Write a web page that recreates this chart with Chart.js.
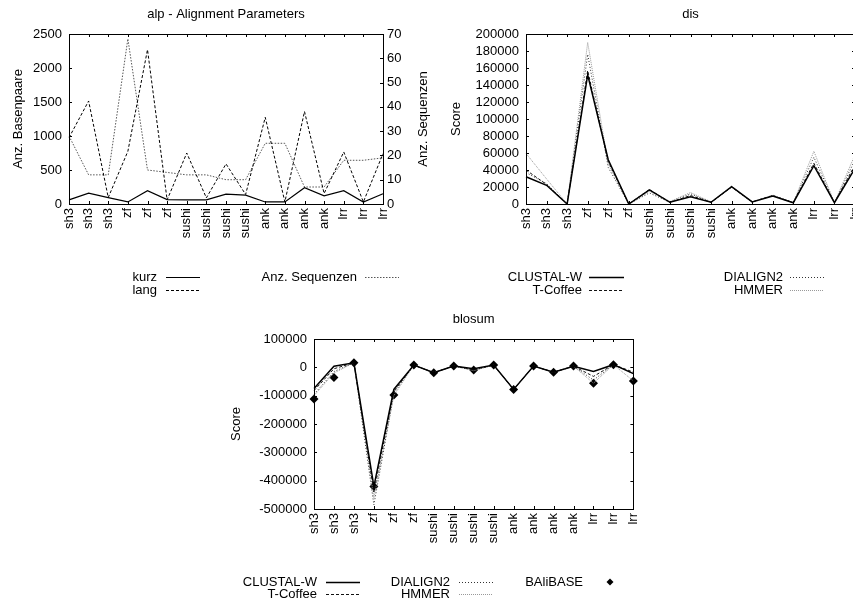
<!DOCTYPE html>
<html>
<head>
<meta charset="utf-8">
<script src="https://cdn.jsdelivr.net/npm/chart.js@4/dist/chart.umd.min.js"></script>
<style>
html, body { margin: 0; padding: 0; background: #fff; overflow: hidden; width: 853px; height: 600px; }
canvas { position: absolute; }
</style>
</head>
<body>
<canvas id="alpChart" width="440" height="300" style="left:0;top:0"></canvas>
<canvas id="disChart" width="435" height="300" style="left:440px;top:0"></canvas>
<canvas id="blosumChart" width="453" height="300" style="left:200px;top:300px"></canvas>
<script>
// categories (same for all three plots)
const categories = ["sh3", "sh3", "sh3", "zf", "zf", "zf", "sushi", "sushi", "sushi", "sushi",
    "ank", "ank", "ank", "ank", "lrr", "lrr", "lrr"];

// alp - Alignment Parameters
const kurz = [60, 160, 95, 30, 195, 65, 60, 60, 145, 130, 30, 30, 240, 120, 195, 30, 150];
const lang = [975, 1515, 95, 775, 2270, 60, 750, 90, 590, 140, 1275, 30, 1360, 155, 765, 30, 740];
const anzSequenzen = [28, 12, 12, 68, 14, 13, 12, 12, 10, 10, 25, 25, 7, 7, 18, 18, 19];

// dis
const disClustal = [32000, 22000, 0, 152000, 52000, 0, 16500, 2000, 8500, 2000, 20500, 2500, 9500, 1500, 45000, 1500, 42000];
const disTCoffee = [40000, 23000, 0, 157000, 50000, 0, 17000, 2000, 10000, 2000, 20000, 2500, 10000, 1500, 48000, 1500, 46000];
const disDialign = [37000, 24000, 0, 176000, 43000, 0, 13000, 2000, 12000, 2000, 20000, 2000, 10000, 1500, 55000, 1500, 52000];
const disHmmer = [59500, 29500, 0, 190000, 47000, 0, 15000, 3000, 13500, 2500, 21000, 2500, 10500, 1500, 62000, 1500, 58000];

// blosum
const bloClustal = [-75000, 4000, 16000, -420000, -78000, 8000, -19000, 4600, -5000, 8000, -78000, 4600, -17000, 4000, -15000, 9400, -22000];
const bloTCoffee = [-82000, -5000, 16000, -440000, -85000, 8000, -19000, 4600, -8000, 8000, -78000, 4600, -17000, 4000, -32000, 9400, -17000];
const bloDialign = [-95000, -15000, 16000, -485000, -92000, 8000, -19000, 4600, -10000, 8000, -78000, 4600, -17000, 4000, -45000, 9400, -22000];
const bloHmmer = [-100000, -20000, 16000, -460000, -100000, 8000, -18000, 4600, -12000, 8000, -78000, 4600, -18000, 4000, -56000, 9400, -48000];
const bloBalibase = [-112000, -36000, 16000, -421000, -98000, 8000, -19000, 4600, -9500, 8000, -78000, 4600, -17700, 4600, -56500, 9400, -48400];

Chart.defaults.font.family = "'Liberation Sans', Arial, sans-serif";
Chart.defaults.font.size = 13;
Chart.defaults.color = "#000";

// gnuplot look: frame with inward tics, key below the plot
const gnuPlot = {
    id: "gnuPlot",
    afterDatasetsDraw(chart, args, opts) {
        const { ctx, chartArea: a, scales } = chart;
        const t = 3;
        ctx.save();
        ctx.strokeStyle = "#000";
        ctx.lineWidth = 1;
        ctx.setLineDash([]);
        ctx.strokeRect(Math.round(a.left) + 0.5, Math.round(a.top) + 0.5,
            Math.round(a.right - a.left), Math.round(a.bottom - a.top));
        ctx.beginPath();
        scales.x.ticks.forEach((tk, i) => {
            const px = Math.round(scales.x.getPixelForTick(i)) + 0.5;
            ctx.moveTo(px, a.bottom); ctx.lineTo(px, a.bottom - t);
            ctx.moveTo(px, a.top); ctx.lineTo(px, a.top + t);
        });
        scales.y.ticks.forEach((tk, i) => {
            const py = Math.round(scales.y.getPixelForTick(i)) + 0.5;
            ctx.moveTo(a.left, py); ctx.lineTo(a.left + t, py);
            if (!scales.y2) { ctx.moveTo(a.right, py); ctx.lineTo(a.right - t, py); }
        });
        if (scales.y2) {
            scales.y2.ticks.forEach((tk, i) => {
                const py = Math.round(scales.y2.getPixelForTick(i)) + 0.5;
                ctx.moveTo(a.right, py); ctx.lineTo(a.right - t, py);
            });
        }
        ctx.stroke();

        // right axis title, reading bottom to top like gnuplot
        if (opts.rightTitle) {
            ctx.save();
            ctx.translate(opts.rightTitle.x, (a.top + a.bottom) / 2);
            ctx.rotate(-Math.PI / 2);
            ctx.fillStyle = "#000";
            ctx.font = "13px 'Liberation Sans', Arial, sans-serif";
            ctx.textAlign = "center";
            ctx.textBaseline = "middle";
            ctx.fillText(opts.rightTitle.text, 0, 0);
            ctx.restore();
        }

        // key
        ctx.font = "13px 'Liberation Sans', Arial, sans-serif";
        ctx.textAlign = "right";
        ctx.textBaseline = "middle";
        (opts.items || []).forEach(it => {
            const ds = chart.data.datasets[it.ds];
            ctx.fillStyle = "#000";
            ctx.fillText(ds.label, it.x, it.y);
            if (ds.showLine === false) {
                const r = 3.5;
                ctx.beginPath();
                ctx.moveTo(it.x1, it.y - r); ctx.lineTo(it.x1 + r, it.y);
                ctx.lineTo(it.x1, it.y + r); ctx.lineTo(it.x1 - r, it.y);
                ctx.closePath();
                ctx.fill();
            } else {
                ctx.strokeStyle = ds.borderColor;
                ctx.lineWidth = ds.borderWidth;
                ctx.setLineDash(ds.borderDash || []);
                ctx.beginPath();
                ctx.moveTo(it.x1, it.y + 0.5);
                ctx.lineTo(it.x2, it.y + 0.5);
                ctx.stroke();
            }
        });
        ctx.restore();
    }
};

function xAxis(height) {
    return {
        type: "category",
        offset: false,
        grid: { display: false, drawTicks: false },
        border: { display: false },
        ticks: { autoSkip: false, minRotation: 90, maxRotation: 90, padding: 4 },
        afterFit: s => { s.height = height; }
    };
}

function yAxis(min, max, step, width, title, titlePad, pos) {
    return {
        type: "linear",
        position: pos || "left",
        min: min, max: max,
        grid: { display: false, drawTicks: false },
        border: { display: false },
        ticks: { stepSize: step, autoSkip: false, padding: pos === "right" ? 4 : 7, callback: v => String(v) },
        title: title ? { display: true, text: title, padding: { top: titlePad, bottom: 0 } } : { display: false },
        afterFit: s => { s.width = width; }
    };
}

function titleOpts(text, top) {
    return {
        display: true, text: text, fullSize: false, color: "#000",
        font: { size: 13, weight: "normal" },
        padding: { top: top, bottom: 12.2 }
    };
}

const base = {
    responsive: false,
    animation: false,
    devicePixelRatio: 1,
    elements: { point: { radius: 0 }, line: { tension: 0 } }
};

// alp - Alignment Parameters
new Chart(document.getElementById("alpChart"), {
    type: "line",
    data: {
        labels: categories,
        datasets: [
            { label: "kurz", data: kurz, borderColor: "#000", borderWidth: 1.2, fill: false, yAxisID: "y" },
            { label: "lang", data: lang, borderColor: "#000", borderWidth: 1, borderDash: [3, 2], fill: false, yAxisID: "y" },
            { label: "Anz. Sequenzen", data: anzSequenzen, borderColor: "#555", borderWidth: 1, borderDash: [1.5, 1.5], fill: false, yAxisID: "y2" }
        ]
    },
    options: Object.assign({}, base, {
        layout: { padding: 0 },
        scales: {
            x: xAxis(96),
            y: yAxis(0, 2500, 500, 69, "Anz. Basenpaare", 11),
            y2: yAxis(0, 70, 10, 57, null, 0, "right")
        },
        plugins: {
            legend: { display: false },
            tooltip: { enabled: false },
            title: titleOpts("alp - Alignment Parameters", 6.2),
            gnuPlot: {
                rightTitle: { text: "Anz. Sequenzen", x: 423 },
                items: [
                    { ds: 0, x: 157, y: 277, x1: 166, x2: 200 },
                    { ds: 1, x: 157, y: 290, x1: 166, x2: 200 },
                    { ds: 2, x: 357, y: 277, x1: 365, x2: 399 }
                ]
            }
        }
    }),
    plugins: [gnuPlot]
});

// dis
new Chart(document.getElementById("disChart"), {
    type: "line",
    data: {
        labels: categories,
        datasets: [
            { label: "CLUSTAL-W", data: disClustal, borderColor: "#000", borderWidth: 1.5, fill: false },
            { label: "T-Coffee", data: disTCoffee, borderColor: "#111", borderWidth: 1, borderDash: [3, 2], fill: false },
            { label: "DIALIGN2", data: disDialign, borderColor: "#333", borderWidth: 1, borderDash: [1, 2], fill: false },
            { label: "HMMER", data: disHmmer, borderColor: "#999", borderWidth: 1, borderDash: [1, 1], fill: false }
        ]
    },
    options: Object.assign({}, base, {
        layout: { padding: { right: 20 } },
        scales: {
            x: xAxis(96),
            y: yAxis(0, 200000, 20000, 86, "Score", 9)
        },
        plugins: {
            legend: { display: false },
            tooltip: { enabled: false },
            title: titleOpts("dis", 6.2),
            gnuPlot: {
                items: [
                    { ds: 0, x: 142, y: 277, x1: 149, x2: 184 },
                    { ds: 1, x: 142, y: 290, x1: 149, x2: 184 },
                    { ds: 2, x: 343, y: 277, x1: 350, x2: 384 },
                    { ds: 3, x: 343, y: 290, x1: 350, x2: 384 }
                ]
            }
        }
    }),
    plugins: [gnuPlot]
});

// blosum
new Chart(document.getElementById("blosumChart"), {
    type: "line",
    data: {
        labels: categories,
        datasets: [
            { label: "CLUSTAL-W", data: bloClustal, borderColor: "#000", borderWidth: 1.5, fill: false },
            { label: "T-Coffee", data: bloTCoffee, borderColor: "#111", borderWidth: 1, borderDash: [3, 2], fill: false },
            { label: "DIALIGN2", data: bloDialign, borderColor: "#333", borderWidth: 1, borderDash: [1, 2], fill: false },
            { label: "HMMER", data: bloHmmer, borderColor: "#999", borderWidth: 1, borderDash: [1, 1], fill: false },
            { label: "BAliBASE", data: bloBalibase, showLine: false, clip: false, pointStyle: "rectRot",
              pointRadius: 4.5, backgroundColor: "#000", borderColor: "#000", borderWidth: 0 }
        ]
    },
    options: Object.assign({}, base, {
        layout: { padding: { right: 19 } },
        scales: {
            x: xAxis(91),
            y: yAxis(-500000, 100000, 100000, 114, "Score", 29)
        },
        plugins: {
            legend: { display: false },
            tooltip: { enabled: false },
            title: titleOpts("blosum", 11.2),
            gnuPlot: {
                items: [
                    { ds: 0, x: 117, y: 282, x1: 126, x2: 160 },
                    { ds: 1, x: 117, y: 294, x1: 126, x2: 160 },
                    { ds: 2, x: 250, y: 282, x1: 259, x2: 293 },
                    { ds: 3, x: 250, y: 294, x1: 259, x2: 293 },
                    { ds: 4, x: 383, y: 282, x1: 410 }
                ]
            }
        }
    }),
    plugins: [gnuPlot]
});
</script>
</body>
</html>
